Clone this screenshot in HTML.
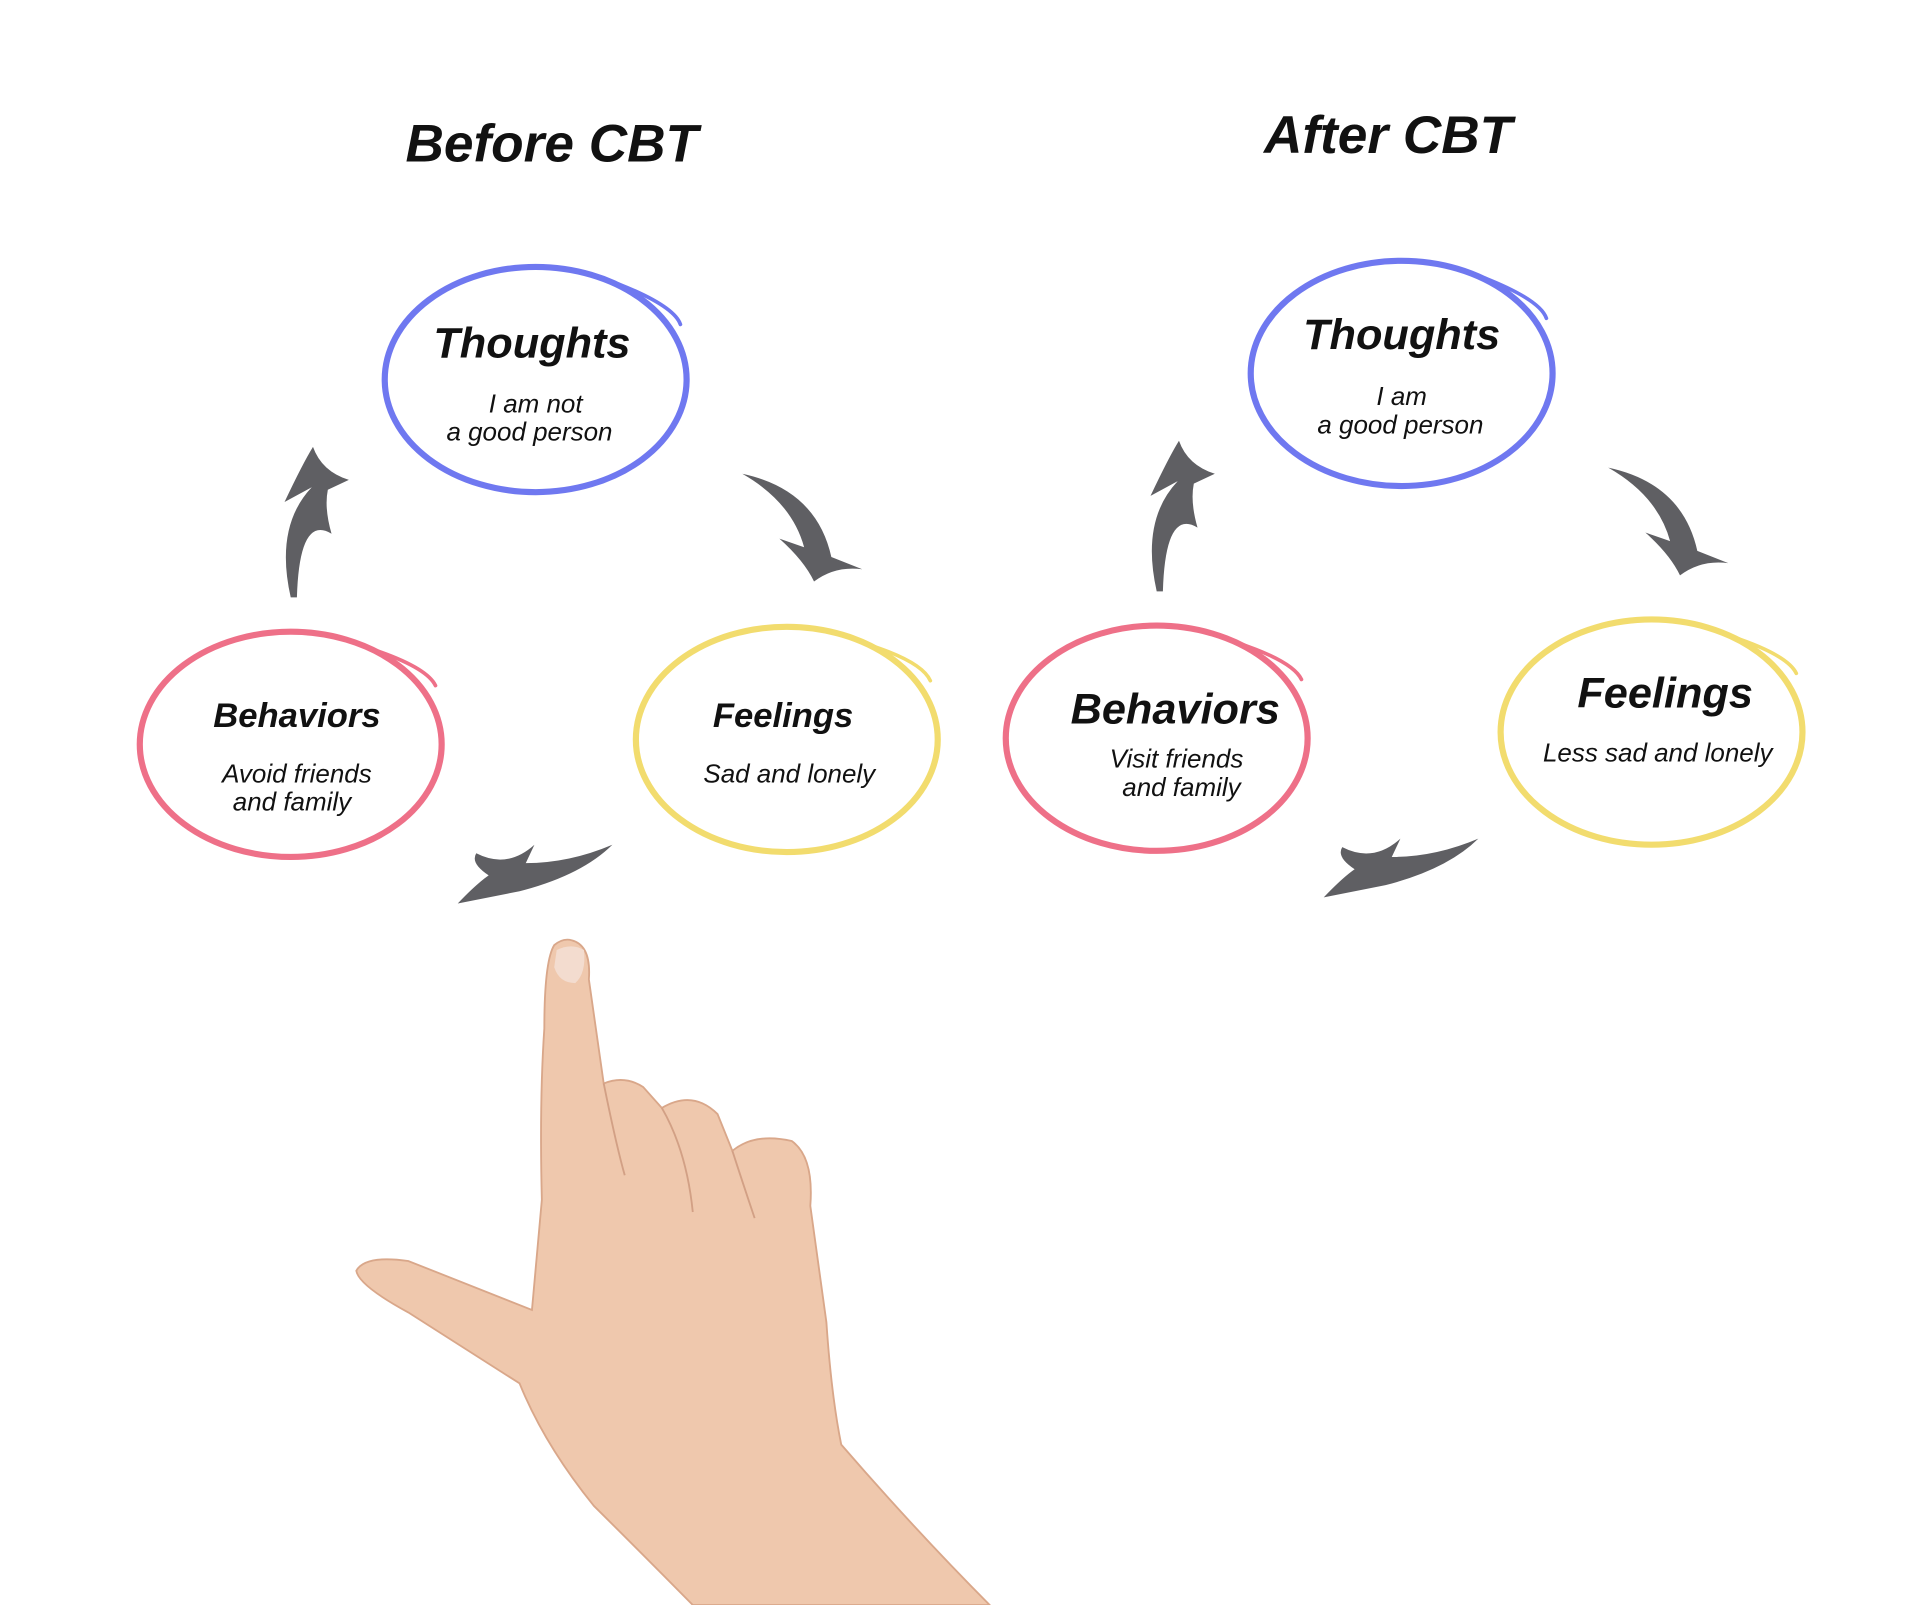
<!DOCTYPE html>
<html><head><meta charset="utf-8"><style>
html,body{margin:0;padding:0;background:#fff;}
svg{display:block;}
text{font-family:"Liberation Sans",sans-serif;font-style:italic;fill:#111;}
.b{font-weight:bold;}
</style></head><body>
<svg width="1920" height="1605" viewBox="0 0 1552 1311" preserveAspectRatio="none" xmlns="http://www.w3.org/2000/svg">
<rect width="1552" height="1311" fill="#fff"/>
<text class="b" x="446" y="132" font-size="43" text-anchor="middle" font-weight="bold">Before CBT</text>
<text class="b" x="1122" y="125" font-size="43" text-anchor="middle" font-weight="bold">After CBT</text>

<g fill="none" stroke-linecap="round">
<ellipse cx="433" cy="310" rx="122" ry="92" stroke="#6f78f0" stroke-width="5"/>
<path d="M500 232 Q545 250 550 265" stroke="#6f78f0" stroke-width="3"/>
<ellipse cx="235" cy="608" rx="122" ry="92" stroke="#ee7088" stroke-width="5"/>
<path d="M300 530 Q345 545 352 560" stroke="#ee7088" stroke-width="3"/>
<ellipse cx="636" cy="604" rx="122" ry="92" stroke="#f2dc6e" stroke-width="5"/>
<path d="M700 526 Q745 540 752 556" stroke="#f2dc6e" stroke-width="3"/>
</g>
<g fill="#5f5f63">
<path d="M235 488 Q222 430 252 398 L230 410 Q245 378 253 365 Q260 385 282 392 L265 400 Q262 415 268 436 Q242 420 240 488 Z"/>
<path d="M600 387 Q660 400 672 455 L697 465 Q675 462 658 475 Q650 458 630 440 L650 447 Q640 410 600 387 Z"/>
<path d="M495 690 Q470 715 420 728 L370 738 Q385 722 395 715 Q380 705 385 697 Q410 710 432 690 L425 705 Q460 705 495 690 Z"/>
</g>
<g text-anchor="middle">
<text class="b" x="430" y="292" font-size="35">Thoughts</text>
<text x="433" y="337" font-size="21">I am not</text>
<text x="428" y="360" font-size="21">a good person</text>
<text class="b" x="240" y="594" font-size="28">Behaviors</text>
<text x="240" y="639" font-size="21">Avoid friends</text>
<text x="236" y="662" font-size="21">and family</text>
<text class="b" x="633" y="594" font-size="28">Feelings</text>
<text x="638" y="639" font-size="21">Sad and lonely</text>
</g>

<g transform="translate(-10,0)">
<g fill="none" stroke-linecap="round">
<ellipse cx="1143" cy="305" rx="122" ry="92" stroke="#6f78f0" stroke-width="5"/>
<path d="M1210 227 Q1255 245 1260 260" stroke="#6f78f0" stroke-width="3"/>
<ellipse cx="945" cy="603" rx="122" ry="92" stroke="#ee7088" stroke-width="5"/>
<path d="M1010 525 Q1055 540 1062 555" stroke="#ee7088" stroke-width="3"/>
<ellipse cx="1345" cy="598" rx="122" ry="92" stroke="#f2dc6e" stroke-width="5"/>
<path d="M1410 520 Q1455 535 1462 550" stroke="#f2dc6e" stroke-width="3"/>
</g>
<g fill="#5f5f63">
<path d="M945 483 Q932 425 962 393 L940 405 Q955 373 963 360 Q970 380 992 387 L975 395 Q972 410 978 431 Q952 415 950 483 Z"/>
<path d="M1310 382 Q1370 395 1382 450 L1407 460 Q1385 457 1368 470 Q1360 453 1340 435 L1360 442 Q1350 405 1310 382 Z"/>
<path d="M1205 685 Q1180 710 1130 723 L1080 733 Q1095 717 1105 710 Q1090 700 1095 692 Q1120 705 1142 685 L1135 700 Q1170 700 1205 685 Z"/>
</g>
<g text-anchor="middle">
<text class="b" x="1143" y="285" font-size="35">Thoughts</text>
<text x="1143" y="331" font-size="21">I am</text>
<text x="1142" y="354" font-size="21">a good person</text>
<text class="b" x="960" y="591" font-size="35">Behaviors</text>
<text x="961" y="627" font-size="21">Visit friends</text>
<text x="965" y="650" font-size="21">and family</text>
<text class="b" x="1356" y="578" font-size="35">Feelings</text>
<text x="1350" y="622" font-size="21">Less sad and lonely</text>
</g>
</g>

<path fill="#efc8ad" stroke="#d9a78a" stroke-width="1.5" d="M462 768 Q478 772 476 800 L488 885 Q505 878 520 888 L535 905 Q560 890 580 910 L592 940 Q610 925 640 932 Q658 945 655 985 L668 1080 Q672 1140 680 1180 Q740 1250 800 1311 L560 1311 Q520 1270 480 1230 Q440 1180 420 1130 L330 1072 Q290 1050 288 1038 Q295 1025 330 1030 L430 1070 L438 980 Q436 900 440 840 Q440 785 448 772 Q455 766 462 768 Z"/>
<path fill="#f3dccf" d="M450 776 Q462 770 472 776 Q474 795 465 803 Q452 803 448 790 Z"/>
<path fill="none" stroke="#d2a085" stroke-width="1.5" d="M488 885 Q498 935 505 960 M535 905 Q555 940 560 990 M592 940 Q600 965 610 995"/>
</svg>
</body></html>
